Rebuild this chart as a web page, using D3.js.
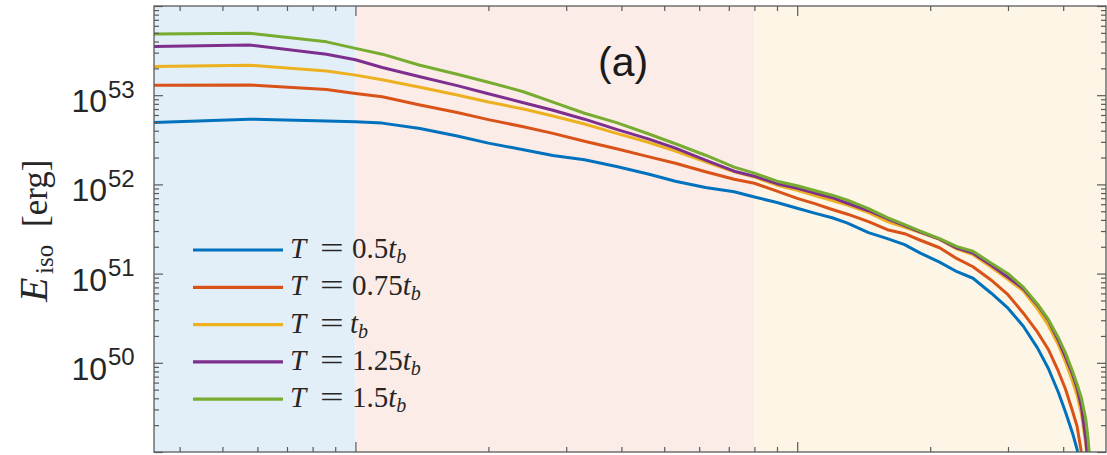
<!DOCTYPE html>
<html>
<head>
<meta charset="utf-8">
<script src="https://cdn.jsdelivr.net/npm/d3@7"></script>
<style>
  html, body { margin: 0; padding: 0; background: #ffffff; }
  svg { display: block; }
</style>
</head>
<body>
<svg id="chart" width="1107" height="455"></svg>
<script>
// ---- data -----------------------------------------------------------------
// shared abscissa (log axis), values of E_iso stored as log10(E / erg)
const xGrid = [0.35, 0.575, 0.86, 1.0, 1.15, 1.4, 1.7, 2.0, 2.4, 2.8, 3.3, 3.9, 4.6, 5.3, 6.2, 7.2,
  8.0, 9.0, 10, 11, 12, 13, 14.5, 16, 17.5, 19, 21, 23, 25, 27.5, 30, 32.5, 35, 37, 39];

const logE_T050 = [52.694, 52.731, 52.712, 52.702, 52.687, 52.627, 52.543, 52.463, 52.388, 52.325,
  52.277, 52.200, 52.117, 52.036, 51.966, 51.918, 51.859, 51.797, 51.733, 51.675, 51.626, 51.565,
  51.460, 51.392, 51.324, 51.230, 51.129, 51.021, 50.948, 50.780, 50.612, 50.410, 50.164, 49.939, 49.670];
const logE_T075 = [53.112, 53.115, 53.064, 53.020, 52.982, 52.890, 52.805, 52.726, 52.646, 52.572,
  52.483, 52.400, 52.311, 52.237, 52.142, 52.058, 52.013, 51.924, 51.843, 51.781, 51.719, 51.666,
  51.582, 51.492, 51.447, 51.374, 51.290, 51.167, 51.077, 50.926, 50.763, 50.556, 50.343, 50.152, 49.906];
const logE_T100 = [53.322, 53.336, 53.272, 53.225, 53.174, 53.089, 53.003, 52.924, 52.845, 52.766,
  52.677, 52.572, 52.473, 52.373, 52.254, 52.142, 52.081, 51.991, 51.935, 51.873, 51.820, 51.767,
  51.683, 51.582, 51.520, 51.459, 51.383, 51.274, 51.212, 51.072, 50.937, 50.803, 50.601, 50.421, 50.203];
const logE_T125 = [53.546, 53.564, 53.460, 53.398, 53.311, 53.207, 53.107, 53.017, 52.916, 52.832,
  52.731, 52.617, 52.510, 52.406, 52.271, 52.148, 52.092, 52.008, 51.957, 51.901, 51.851, 51.789,
  51.705, 51.615, 51.539, 51.464, 51.386, 51.285, 51.229, 51.094, 50.960, 50.831, 50.646, 50.478, 50.253];
const logE_T150 = [53.687, 53.695, 53.598, 53.525, 53.460, 53.336, 53.235, 53.146, 53.039, 52.922,
  52.798, 52.692, 52.568, 52.456, 52.327, 52.193, 52.126, 52.036, 51.985, 51.929, 51.879, 51.823,
  51.728, 51.627, 51.548, 51.475, 51.393, 51.302, 51.251, 51.117, 50.999, 50.848, 50.657, 50.489, 50.281];

// steep cut-off at the high end, sampled per curve
const xTail_T050 = [40.5, 42, 43, 43.6];
const logETail_T050 = [49.446, 49.211, 49.031, 48.88];
const xTail_T075 = [40.5, 42, 43, 44, 44.4];
const logETail_T075 = [49.704, 49.457, 49.289, 48.99, 48.85];
const xTail_T100 = [40.5, 42, 43, 44, 45, 45.4];
const logETail_T100 = [50.007, 49.794, 49.637, 49.424, 49.087, 48.88];
const xTail_T125 = [40.5, 42, 43, 44, 45, 45.5];
const logETail_T125 = [50.063, 49.872, 49.715, 49.502, 49.143, 48.88];
const xTail_T150 = [40.5, 42, 43, 44, 45, 45.5, 46];
const logETail_T150 = [50.108, 49.906, 49.760, 49.603, 49.368, 49.166, 48.88];

const seriesCoef = ["0.5", "0.75", "", "1.25", "1.5"];
const seriesColors = ["#0072BD", "#D95319", "#EDB120", "#7E2F8E", "#77AC30"];

// shaded regimes along x
const regionEdges = [0.35, 1, 8, 50];
const regionColors = ["#E3EFF8", "#FBECE8", "#FDF6E7"];

const yLabelExps = [50, 51, 52, 53];

// ---- layout ---------------------------------------------------------------
const svg = d3.select("#chart");
const L = 154, R = 1106, T = 6, B = 452;

const x = d3.scaleLog().domain([0.35, 50]).range([L, R]);
const y = d3.scaleLog().domain([1e49, 1e54]).range([B, T]);

// backgrounds
svg.append("g").selectAll("rect")
  .data(regionColors)
  .join("rect")
  .attr("x", (d, i) => x(regionEdges[i]))
  .attr("y", T)
  .attr("width", (d, i) => x(regionEdges[i + 1]) - x(regionEdges[i]))
  .attr("height", B - T)
  .attr("fill", d => d);

// curves
svg.append("clipPath").attr("id", "plotclip")
  .append("rect").attr("x", L).attr("y", T).attr("width", R - L).attr("height", B - T);

const mainSets = [logE_T050, logE_T075, logE_T100, logE_T125, logE_T150];
const tailX = [xTail_T050, xTail_T075, xTail_T100, xTail_T125, xTail_T150];
const tailE = [logETail_T050, logETail_T075, logETail_T100, logETail_T125, logETail_T150];

const series = mainSets.map((vals, i) => {
  const pts = xGrid.map((xv, j) => [xv, Math.pow(10, vals[j])]);
  tailX[i].forEach((xv, j) => pts.push([xv, Math.pow(10, tailE[i][j])]));
  return pts;
});

const line = d3.line().x(d => x(d[0])).y(d => y(d[1]));

svg.append("g").attr("clip-path", "url(#plotclip)")
  .selectAll("path")
  .data(series)
  .join("path")
  .attr("d", line)
  .attr("fill", "none")
  .attr("stroke", (d, i) => seriesColors[i])
  .attr("stroke-width", 3)
  .attr("stroke-linejoin", "round")
  .attr("stroke-linecap", "round");

// ---- axes (box with inward ticks on all four sides) -------------------------
const axisColor = "#5a5a5a";
const xMajor = [1, 10];
const xMinor = [0.4, 0.5, 0.6, 0.7, 0.8, 0.9, 2, 3, 4, 5, 6, 7, 8, 9, 20, 30, 40];
const yMajor = [1e49, 1e50, 1e51, 1e52, 1e53, 1e54];
const yMinor = [];
for (let e = 49; e < 54; e++) for (let m = 2; m <= 9; m++) yMinor.push(m * Math.pow(10, e));

function tickGroup(axisFn, scale, values, size, transform) {
  const g = svg.append("g").attr("transform", transform)
    .call(axisFn(scale).tickValues(values).tickSize(size).tickFormat(""));
  g.select(".domain").remove();
  g.selectAll("line").attr("stroke", axisColor).attr("stroke-width", 1.2);
  return g;
}
tickGroup(d3.axisBottom, x, xMajor, -10, `translate(0,${B})`);
tickGroup(d3.axisBottom, x, xMinor, -5, `translate(0,${B})`);
tickGroup(d3.axisTop, x, xMajor, -10, `translate(0,${T})`);
tickGroup(d3.axisTop, x, xMinor, -5, `translate(0,${T})`);
tickGroup(d3.axisLeft, y, yMajor, -9, `translate(${L},0)`);
tickGroup(d3.axisLeft, y, yMinor, -5, `translate(${L},0)`);
tickGroup(d3.axisRight, y, yMajor, -9, `translate(${R},0)`);
tickGroup(d3.axisRight, y, yMinor, -5, `translate(${R},0)`);

svg.append("rect")
  .attr("x", L).attr("y", T).attr("width", R - L).attr("height", B - T)
  .attr("fill", "none").attr("stroke", axisColor).attr("stroke-width", 1.3);

// y tick labels 10^n
const labG = svg.append("g").attr("font-family", "'Liberation Sans', Arial, Helvetica, sans-serif")
  .attr("fill", "#262626");
yLabelExps.forEach(n => {
  const yy = y(Math.pow(10, n));
  labG.append("text").attr("x", 107).attr("y", yy + 17)
    .attr("text-anchor", "end").attr("font-size", 32).text("10");
  labG.append("text").attr("x", 108).attr("y", yy + 2.5)
    .attr("font-size", 24).text(String(n));
});

// y axis title: E_iso [erg]
const serif = "'Liberation Serif', 'Times New Roman', serif";
const yt = svg.append("text")
  .attr("transform", "translate(47,302) rotate(-90)")
  .attr("font-family", serif)
  .attr("fill", "#262626");
yt.append("tspan").attr("x", 0).attr("y", 0).attr("font-size", 40).attr("font-style", "italic").text("E");
yt.append("tspan").attr("x", 28).attr("y", 6).attr("font-size", 25).text("iso");
yt.append("tspan").attr("x", 75).attr("y", 0).attr("font-size", 35).text("[erg]");

// panel tag
svg.append("text").attr("x", 598).attr("y", 75.5)
  .attr("font-family", "'Liberation Sans', Arial, Helvetica, sans-serif")
  .attr("font-size", 41).attr("fill", "#1a1a1a").text("(a)");

// legend
const lg = svg.append("g").attr("font-family", serif).attr("fill", "#262626");
const legX0 = 193, legX1 = 283, legY0 = 250, legDy = 37.3, txtX = 290;
seriesCoef.forEach((c, i) => {
  const ly = legY0 + i * legDy;
  const by = ly + 8;
  lg.append("line").attr("x1", legX0).attr("x2", legX1).attr("y1", ly).attr("y2", ly)
    .attr("stroke", seriesColors[i]).attr("stroke-width", 3.2);
  lg.append("text").attr("x", txtX).attr("y", by)
    .attr("font-size", 29).attr("font-style", "italic").text("T");
  lg.append("text").attr("transform", `translate(${txtX + 30},${by}) scale(1.45,1)`)
    .attr("font-size", 29).text("=");
  const t = lg.append("text").attr("x", c ? txtX + 62 : txtX + 60).attr("y", by)
    .attr("font-size", 29);
  if (c) t.append("tspan").text(c);
  t.append("tspan").attr("font-style", "italic").text("t");
  t.append("tspan").attr("font-style", "italic").attr("font-size", 20).attr("dy", 5).text("b");
});
</script>
</body>
</html>
